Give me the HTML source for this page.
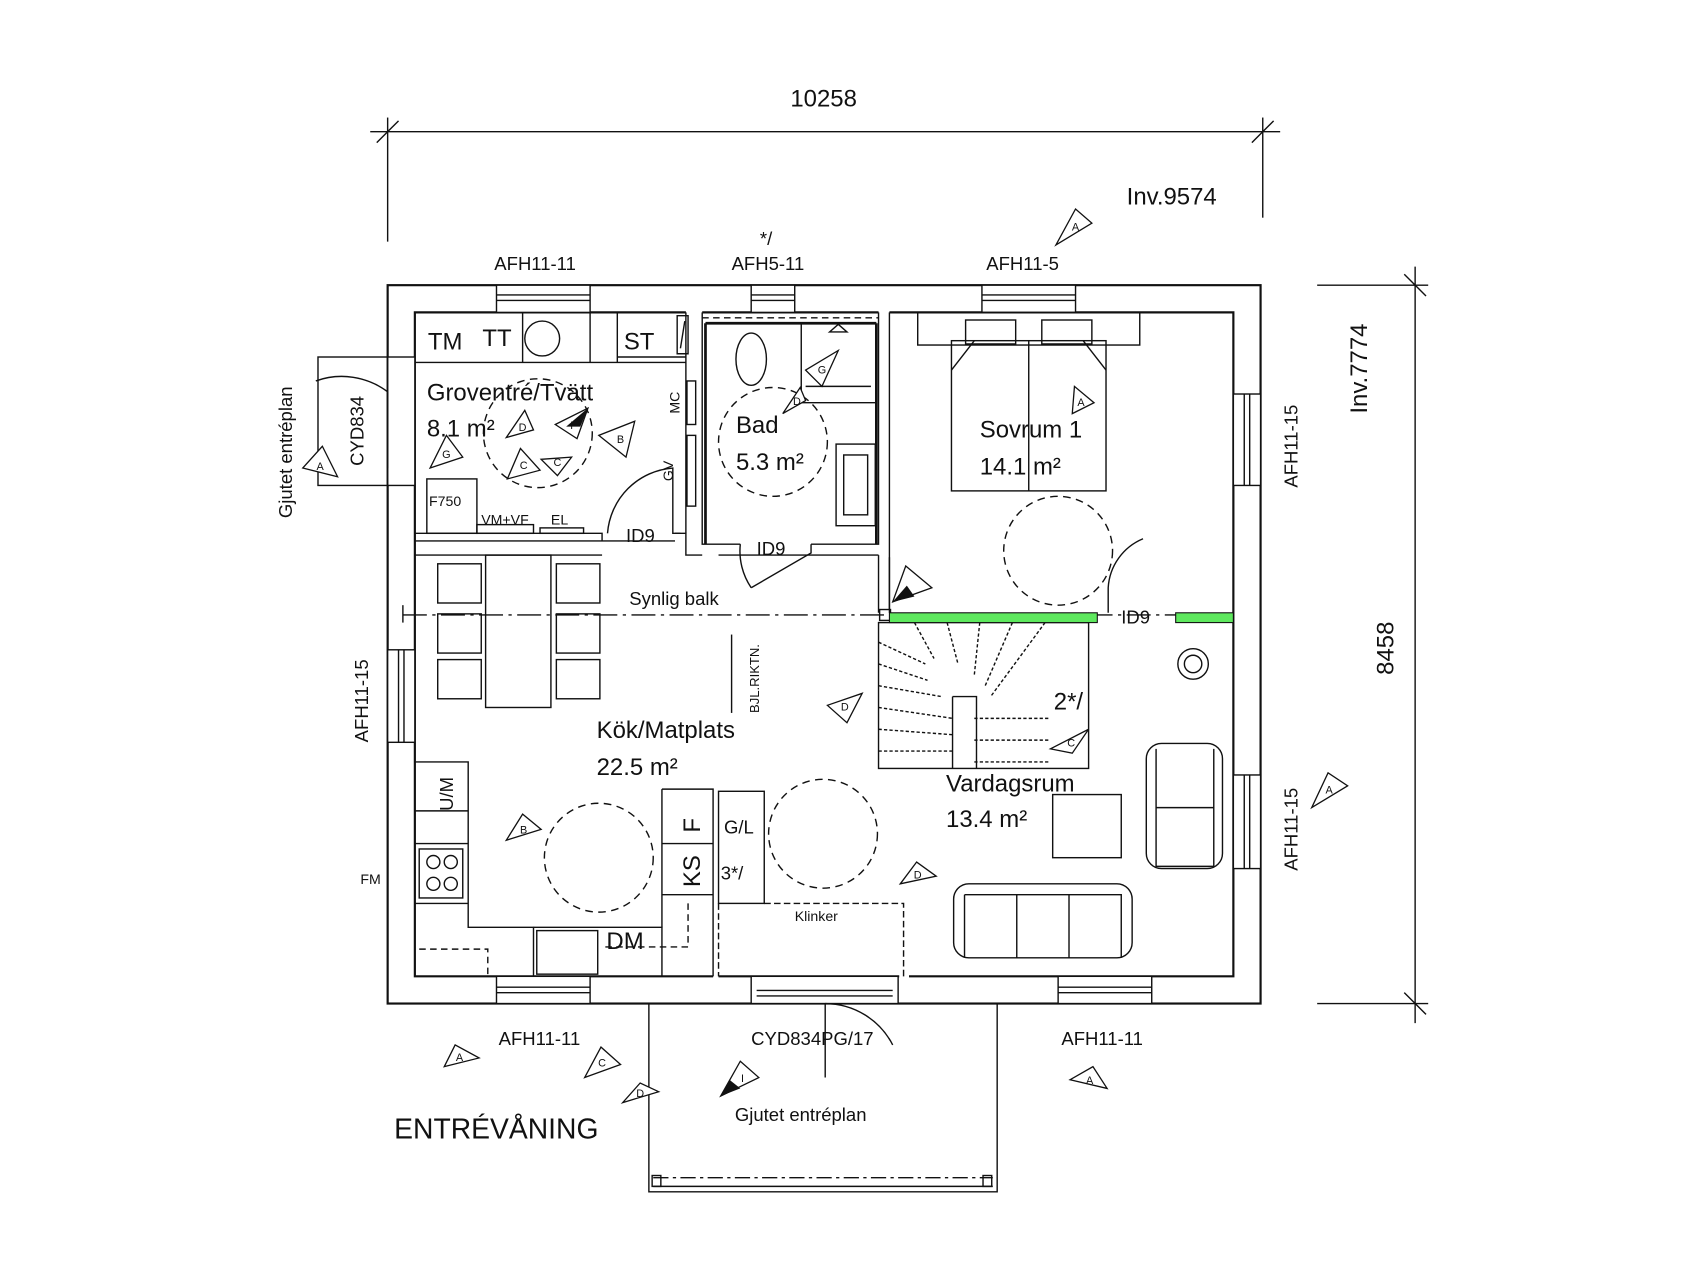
<!DOCTYPE html>
<html><head><meta charset="utf-8">
<style>
html,body{margin:0;padding:0;background:#fff;}
svg{display:block;}
text{font-family:"Liberation Sans",sans-serif;fill:#111;}
</style></head>
<body>
<svg width="1707" height="1280" viewBox="0 0 1568 1176" xmlns="http://www.w3.org/2000/svg">
<rect width="1568" height="1176" fill="#fff"/>
<g stroke="#111" fill="none" stroke-width="1.3">
<line x1="340" y1="121" x2="1176" y2="121"/>
<line x1="356" y1="108" x2="356" y2="222"/>
<line x1="1160" y1="108" x2="1160" y2="200"/>
<line x1="346" y1="131" x2="366" y2="111"/>
<line x1="1150" y1="131" x2="1170" y2="111"/>
<line x1="1300" y1="245" x2="1300" y2="940"/>
<line x1="1210" y1="262" x2="1312" y2="262"/>
<line x1="1210" y1="922" x2="1312" y2="922"/>
<line x1="1290" y1="252" x2="1310" y2="272"/>
<line x1="1290" y1="912" x2="1310" y2="932"/>
</g>
<g stroke="#111" stroke-width="2" fill="none">
<rect x="356" y="262" width="802" height="660"/>
<path d="M381 328 V287 H630 M645 287 H807 M817 287 H1133 V897 H835 M826 897 H660 M655 897 H381 V328"/>
</g>
<g fill="#fff" stroke="#111" stroke-width="1.3">
<rect x="456" y="262" width="86" height="25"/>
<rect x="690" y="262" width="40" height="25"/>
<rect x="902" y="262" width="86" height="25"/>
<rect x="456" y="897" width="86" height="25"/>
<rect x="972" y="897" width="86" height="25"/>
<rect x="1133" y="362" width="25" height="84"/>
<rect x="1133" y="712" width="25" height="86"/>
<rect x="356" y="597" width="25" height="85"/>
<rect x="356" y="328" width="25" height="118"/>
<rect x="690" y="897" width="135" height="25"/>
</g>
<g stroke="#111" stroke-width="1.3" fill="none">
<line x1="456" y1="271" x2="542" y2="271"/><line x1="456" y1="276" x2="542" y2="276"/>
<line x1="690" y1="271" x2="730" y2="271"/><line x1="690" y1="276" x2="730" y2="276"/>
<line x1="902" y1="271" x2="988" y2="271"/><line x1="902" y1="276" x2="988" y2="276"/>
<line x1="456" y1="907" x2="542" y2="907"/><line x1="456" y1="912" x2="542" y2="912"/>
<line x1="972" y1="907" x2="1058" y2="907"/><line x1="972" y1="912" x2="1058" y2="912"/>
<line x1="1143" y1="362" x2="1143" y2="446"/><line x1="1148" y1="362" x2="1148" y2="446"/>
<line x1="1143" y1="712" x2="1143" y2="798"/><line x1="1148" y1="712" x2="1148" y2="798"/>
<line x1="366" y1="597" x2="366" y2="682"/><line x1="371" y1="597" x2="371" y2="682"/>
<line x1="695" y1="910" x2="820" y2="910"/><line x1="695" y1="915" x2="820" y2="915"/>
<rect x="292" y="328" width="64" height="118"/>
<path d="M356 360 A70 70 0 0 0 290 350"/>
<line x1="356" y1="360" x2="356" y2="430"/>
<path d="M596 922 V1095 H916 V922"/>
<line x1="600" y1="1082" x2="912" y2="1082" stroke-dasharray="14 4 3 4"/>
<line x1="600" y1="1090" x2="912" y2="1090"/>
<rect x="599" y="1080" width="8" height="10"/><rect x="903" y="1080" width="8" height="10"/>
<path d="M758 922 L758 990 M758 922 A70 70 0 0 1 820 960"/>
<path d="M630 287 V490 M645 287 V500 H680 M745 500 H807 V287 M817 287 V560"/>
<path d="M622 290 H632 V325 H622 Z M625 320 L629 295"/>
<path d="M645 292 H807" stroke-dasharray="6 4"/>
<line x1="648" y1="297" x2="805" y2="297" stroke-width="2.5"/>
<line x1="648" y1="297" x2="648" y2="500" stroke-width="2.5"/>
<line x1="805" y1="297" x2="805" y2="500" stroke-width="2.5"/>
<path d="M381 490 H553 V497 H381 Z M381 497 H620"/>
<path d="M620 490 H630 V510 H645 M630 490 V500"/>
<path d="M807 510 V563 M817 512 V563"/>
<path d="M381 510 H553 M660 510 H807"/>
<path d="M381 333 H630 M480 287 V333 M542 287 V333 M567 287 V333 M567 328 H630"/>
<circle cx="498" cy="311" r="16"/>
<rect x="392" y="440" width="46" height="50"/>
<rect x="438" y="482" width="52" height="8"/><rect x="496" y="485" width="40" height="5"/>
<rect x="631" y="350" width="8" height="40"/><rect x="631" y="400" width="8" height="65"/>
<path d="M625 490 H618 V430 A65 65 0 0 0 558 490"/>
<ellipse cx="690" cy="330" rx="14" ry="24"/>
<path d="M736 297 V370 H805 M740 355 H800"/>
<path d="M762 305 L770 298 L778 305 Z"/>
<rect x="768" y="408" width="36" height="75"/><rect x="775" y="418" width="22" height="55"/>
<path d="M680 500 A60 60 0 0 0 690 540 M745 500 V508 L690 540"/>
<rect x="843" y="287" width="204" height="30"/>
<rect x="887" y="294" width="46" height="22"/><rect x="957" y="294" width="46" height="22"/>
<rect x="874" y="313" width="142" height="138"/>
<line x1="945" y1="313" x2="945" y2="451"/>
<path d="M874 340 L895 313 M1016 340 L995 313"/>
<path d="M1018 563 V540 A52 52 0 0 1 1050 495" />
<rect x="446" y="510" width="60" height="140"/>
<rect x="402" y="518" width="40" height="36"/><rect x="402" y="564" width="40" height="36"/><rect x="402" y="606" width="40" height="36"/>
<rect x="511" y="518" width="40" height="36"/><rect x="511" y="564" width="40" height="36"/><rect x="511" y="606" width="40" height="36"/>
<path d="M381 700 H430 V852 H490 V897 M430 745 H381 M430 775 H381 M430 830 H381"/>
<rect x="385" y="780" width="40" height="45"/>
<circle cx="398" cy="792" r="6"/><circle cx="414" cy="792" r="6"/><circle cx="398" cy="812" r="6"/><circle cx="414" cy="812" r="6"/>
<path d="M490 852 H608 V897"/>
<rect x="493" y="855" width="56" height="40"/>
<path d="M385 872 H448 V897" stroke-dasharray="6 4"/>
<path d="M608 725 H655 V897 M608 725 V852 M608 775 H655 M608 822 H655"/>
<path d="M632 830 V870 H553" stroke-dasharray="6 4"/>
<rect x="660" y="727" width="42" height="103"/>
<path d="M660 830 V897 M702 830 H830 V897" stroke-dasharray="6 3"/>
<path d="M672 583 V655"/>
<rect x="807" y="572" width="193" height="134"/>
<path d="M875 640 H897 V706 M875 640 V706"/>
<path d="M807 590 L850 610 M807 610 L852 625 M807 630 L865 640 M807 650 L875 660 M807 670 L875 675 M807 690 L875 690 M840 572 L858 605 M870 572 L880 610 M900 572 L895 620 M930 572 L905 630 M960 572 L910 640 M895 660 H965 M895 680 H965 M895 700 H965" stroke-dasharray="3 2"/>
<rect x="1053" y="683" width="70" height="115" rx="14"/>
<path d="M1062 688 V796 H1115 V688 M1062 742 H1115"/>
<rect x="967" y="730" width="63" height="58"/>
<rect x="876" y="812" width="164" height="68" rx="14"/>
<path d="M886 822 H1030 V880 M886 822 V880 M934 822 V880 M982 822 V880"/>
<circle cx="1096" cy="610" r="14"/><circle cx="1096" cy="610" r="8"/>
<g stroke-dasharray="7 5">
<circle cx="494" cy="398" r="50"/>
<circle cx="710" cy="406" r="50"/>
<circle cx="972" cy="506" r="50"/>
<circle cx="550" cy="788" r="50"/>
<circle cx="756" cy="766" r="50"/>
</g>
<line x1="370" y1="565" x2="1133" y2="565" stroke-dasharray="22 5 3 5"/>
<line x1="370" y1="556" x2="370" y2="572"/>
<rect x="808" y="560" width="10" height="10"/>
</g>
<rect x="817" y="563" width="191" height="9" fill="#5ee85e" stroke="#111" stroke-width="1"/>
<rect x="1080" y="563" width="53" height="9" fill="#5ee85e" stroke="#111" stroke-width="1"/>
<g stroke="#111" fill="#fff" stroke-width="1.2">
<path d="M970 225 L1003 205 L988 192 Z"/><path d="M985 380 L1005 370 L987 355 Z"/>
<path d="M278 430 L310 438 L296 410 Z"/><path d="M395 430 L425 420 L410 400 Z"/>
<path d="M465 402 L490 395 L482 377 Z"/><path d="M466 440 L496 432 L478 412 Z"/>
<path d="M510 390 L540 375 L530 403 Z"/><path d="M550 400 L575 420 L583 387 Z"/>
<path d="M497 422 L525 420 L512 437 Z"/><path d="M740 340 L770 322 L755 355 Z"/>
<path d="M719 380 L740 368 L735 356 Z"/><path d="M820 553 L856 540 L832 520 Z"/>
<path d="M760 648 L792 637 L778 664 Z"/><path d="M965 688 L1000 670 L985 692 Z"/>
<path d="M465 772 L497 762 L480 748 Z"/><path d="M827 812 L860 805 L842 792 Z"/>
<path d="M1205 742 L1238 722 L1220 710 Z"/><path d="M408 980 L440 972 L418 960 Z"/>
<path d="M537 990 L570 978 L552 962 Z"/><path d="M572 1013 L605 1003 L588 995 Z"/>
<path d="M662 1007 L697 990 L680 975 Z"/><path d="M983 992 L1017 1000 L1004 980 Z"/>
</g>
<g fill="#111"><path d="M520 392 L540 375 L533 392 Z"/><path d="M820 553 L840 548 L833 538 Z"/><path d="M662 1007 L680 1000 L670 992 Z"/></g>
<g font-size="10" text-anchor="middle">
<text x="988" y="212">A</text><text x="993" y="373">A</text><text x="294" y="432">A</text>
<text x="410" y="421">G</text><text x="480" y="396">D</text><text x="481" y="431">C</text>
<text x="525" y="394">I</text><text x="570" y="407">B</text><text x="512" y="428">C</text>
<text x="755" y="343">G</text><text x="732" y="372">D</text><text x="776" y="653">D</text>
<text x="984" y="686">C</text><text x="481" y="766">B</text><text x="843" y="807">D</text>
<text x="1221" y="729">A</text><text x="422" y="975">A</text><text x="553" y="980">C</text>
<text x="588" y="1008">D</text><text x="682" y="994">I</text><text x="1001" y="996">A</text>
</g>
<g font-size="22">
<text x="726" y="98">10258</text>
<text x="1035" y="188">Inv.9574</text>
<text x="1280" y="620" transform="rotate(-90 1280 620)">8458</text>
<text x="1256" y="380" transform="rotate(-90 1256 380)">Inv.7774</text>
<text x="392" y="368">Groventré/Tvätt</text>
<text x="392" y="401">8.1 m²</text>
<text x="676" y="398">Bad</text>
<text x="676" y="432">5.3 m²</text>
<text x="900" y="402">Sovrum 1</text>
<text x="900" y="436">14.1 m²</text>
<text x="548" y="678">Kök/Matplats</text>
<text x="548" y="712">22.5 m²</text>
<text x="869" y="727">Vardagsrum</text>
<text x="869" y="760">13.4 m²</text>
<text x="393" y="321">TM</text><text x="443" y="318">TT</text><text x="573" y="321">ST</text>
<text x="968" y="652">2*/</text>
<text x="557" y="872">DM</text>
<text x="362" y="1046" font-size="26">ENTRÉVÅNING</text>
</g>
<g font-size="17">
<text x="454" y="248">AFH11-11</text>
<text x="672" y="248">AFH5-11</text>
<text x="698" y="225">*/</text>
<text x="906" y="248">AFH11-5</text>
<text x="458" y="960">AFH11-11</text>
<text x="975" y="960">AFH11-11</text>
<text x="690" y="960">CYD834PG/17</text>
<text x="675" y="1030">Gjutet entréplan</text>
<text x="578" y="556">Synlig balk</text>
<text x="575" y="498">ID9</text>
<text x="695" y="510">ID9</text>
<text x="1030" y="573">ID9</text>
<text x="665" y="766">G/L</text>
<text x="662" y="808">3*/</text>
<text x="1192" y="448" transform="rotate(-90 1192 448)">AFH11-15</text>
<text x="1192" y="800" transform="rotate(-90 1192 800)">AFH11-15</text>
<text x="338" y="682" transform="rotate(-90 338 682)">AFH11-15</text>
<text x="268" y="476" transform="rotate(-90 268 476)">Gjutet entréplan</text>
<text x="334" y="428" transform="rotate(-90 334 428)">CYD834</text>
<text x="416" y="745" transform="rotate(-90 416 745)">U/M</text>
<text x="643" y="765" font-size="22" transform="rotate(-90 643 765)">F</text>
<text x="643" y="815" font-size="22" transform="rotate(-90 643 815)">KS</text>
</g>
<g font-size="13">
<text x="394" y="465">F750</text>
<text x="442" y="482">VM+VF</text>
<text x="506" y="482">EL</text>
<text x="730" y="846">Klinker</text>
<text x="331" y="812">FM</text>
<text x="624" y="380" transform="rotate(-90 624 380)">MC</text>
<text x="618" y="442" transform="rotate(-90 618 442)">GV</text>
<text x="697" y="655" font-size="12" transform="rotate(-90 697 655)">BJL.RIKTN.</text>
</g>
</svg>
</body></html>
